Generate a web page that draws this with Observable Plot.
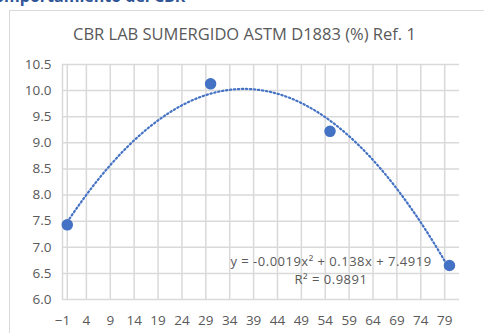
<!DOCTYPE html>
<html>
<head>
<meta charset="utf-8">
<script src="https://cdn.jsdelivr.net/npm/d3@7"></script>
<script src="https://cdn.jsdelivr.net/npm/@observablehq/plot@0.6"></script>
<style>
  html, body { margin: 0; padding: 0; background: #fff; }
  #wrap { position: relative; width: 484px; height: 333px; overflow: hidden; font-family: "Open Sans", sans-serif; }
  #cut { position: absolute; left: -16px; top: -15px; font: bold 16px "Open Sans", sans-serif; color: #2f5597; white-space: nowrap; }
  #box { position: absolute; left: 9px; top: 10px; width: 500px; height: 340px; border-left: 1.5px solid #d9d9d9; border-top: 1.5px solid #d9d9d9; }
  #title { position: absolute; left: 73px; top: 22px; font-size: 16.5px; color: #595959; white-space: nowrap; }
  #chart { position: absolute; left: 0; top: 50px; }
</style>
</head>
<body>
<div id="wrap">
  <div id="cut">Comportamiento del CBR</div>
  <div id="box"></div>
  <div id="title">CBR LAB SUMERGIDO ASTM D1883 (%) Ref. 1</div>
  <div id="chart"></div>
</div>
<script>
// Data
const dias = [0, 30, 55, 80];
const cbr = [7.43, 10.13, 9.22, 6.65];
const xTicks = [-1, 4, 9, 14, 19, 24, 29, 34, 39, 44, 49, 54, 59, 64, 69, 74, 79];
const yTicks = [6.0, 6.5, 7.0, 7.5, 8.0, 8.5, 9.0, 9.5, 10.0, 10.5];
// Trendline label text shown on the chart
const eqText = ["y = -0.0019x² + 0.138x + 7.4919", "R² = 0.9891"];

const points = dias.map((d, i) => ({x: d, y: cbr[i]}));

// Order-2 polynomial least-squares trendline fitted to the points (as the spreadsheet does)
function polyFit2(xs, ys) {
  const S = [0, 0, 0, 0, 0], T = [0, 0, 0];
  xs.forEach((x, i) => {
    for (let k = 0; k < 5; k++) S[k] += x ** k;
    for (let k = 0; k < 3; k++) T[k] += ys[i] * x ** k;
  });
  const A = [[S[0], S[1], S[2], T[0]], [S[1], S[2], S[3], T[1]], [S[2], S[3], S[4], T[2]]];
  for (let i = 0; i < 3; i++) {
    for (let j = i + 1; j < 3; j++) {
      const f = A[j][i] / A[i][i];
      for (let k = i; k < 4; k++) A[j][k] -= f * A[i][k];
    }
  }
  const c = [0, 0, 0];
  for (let i = 2; i >= 0; i--) {
    let s = A[i][3];
    for (let k = i + 1; k < 3; k++) s -= A[i][k] * c[k];
    c[i] = s / A[i][i];
  }
  return c; // c0 + c1 x + c2 x²
}
const c = polyFit2(dias, cbr);
const trend = d3.range(dias[0], dias[dias.length - 1] + 0.25, 0.5)
  .map(x => ({x, y: c[0] + c[1] * x + c[2] * x * x}));
const labels = [{x: 55.2, y: 6.715, t: eqText[0]}, {x: 55.2, y: 6.385, t: eqText[1]}];

const grid = "#d9d9d9";
const txt = "#595959";
const blue = "#4472c4";

const plot = Plot.plot({
  width: 484,
  height: 283,
  marginLeft: 62,
  marginRight: 25,
  marginTop: 14,
  marginBottom: 34,
  style: {fontFamily: "Open Sans, sans-serif", fontSize: "13.5px", color: txt, background: "transparent"},
  x: {domain: [-1, 82.1], label: null},
  y: {domain: [6, 10.5], label: null},
  marks: [
    Plot.gridX(xTicks, {stroke: grid, strokeOpacity: 1, strokeWidth: 1.5}),
    Plot.gridY(yTicks, {stroke: grid, strokeOpacity: 1, strokeWidth: 1.5}),
    Plot.ruleX([0], {stroke: grid, strokeWidth: 1.5}),
    Plot.axisX({ticks: xTicks, tickFormat: d3.format("d"), tickSize: 0, tickPadding: 16, fill: txt, fontSize: 13.5, label: null}),
    Plot.axisY({ticks: yTicks, tickFormat: d3.format(".1f"), tickSize: 0, tickPadding: 11, fill: txt, fontSize: 13.5, label: null}),
    Plot.line(trend, {x: "x", y: "y", stroke: blue, strokeWidth: 2.2, strokeDasharray: "1.4 2.6", strokeLinecap: "round"}),
    Plot.dot(points, {x: "x", y: "y", r: 5, fill: blue, stroke: blue}),
    Plot.text(labels, {x: "x", y: "y", text: "t", fill: txt, fontSize: 13, textAnchor: "middle", style: "letter-spacing: 0.5px"})
  ]
});
plot.querySelectorAll("text").forEach(t => { if (t.textContent.startsWith("y =") || t.textContent.startsWith("R²")) t.style.letterSpacing = "0.5px"; });
document.getElementById("chart").appendChild(plot);
</script>
</body>
</html>
